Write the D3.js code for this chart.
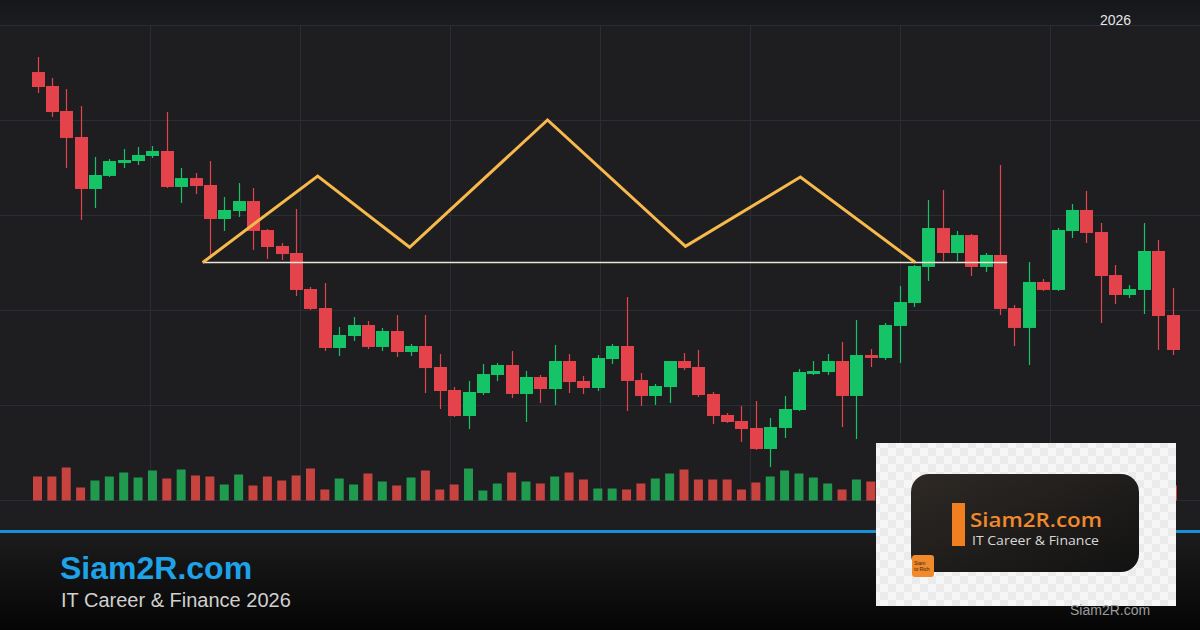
<!DOCTYPE html>
<html><head><meta charset="utf-8">
<script src="https://cdn.jsdelivr.net/npm/d3@7"></script>
<style>html,body{margin:0;padding:0;background:#1e1e20;}svg{display:block;}</style>
</head><body>
<svg id="c" width="1200" height="630"></svg>
<script>
// ---------- DATA ----------
const open  = [145.05,143.58,140.95,138.21,132.74,134.11,135.47,135.68,136.21,136.74,132.95,133.89,133.16,129.58,130.42,131.47,128.42,126.74,126.0,122.21,
               120.21,116.0,117.26,118.42,116.11,117.79,115.58,116.21,114.0,111.58,108.84,111.26,113.16,114.21,111.16,112.95,111.68,114.63,112.53,111.79,
               114.84,116.21,112.63,110.95,111.89,114.63,114.0,111.16,108.95,108.32,107.58,105.37,107.58,109.47,113.26,113.47,114.63,110.95,115.26,114.95,
               118.32,120.74,124.53,128.63,126.0,127.89,124.53,125.79,120.21,118.11,122.95,122.11,128.32,130.53,128.21,123.68,121.58,122.11,126.21,119.47];
const high  = [146.63,144.42,143.26,141.47,136.11,135.89,136.95,137.16,137.26,140.84,134.95,134.42,135.68,131.89,133.37,132.84,128.53,127.05,130.63,122.42,
               122.84,118.21,119.26,118.84,118.11,119.47,116.42,119.47,115.37,111.89,112.53,114.32,114.42,115.68,113.58,113.16,116.32,115.37,113.05,115.26,
               116.42,121.37,113.37,112.21,114.63,115.47,115.79,111.37,109.16,109.89,110.42,108.63,110.95,113.79,114.63,115.37,116.63,118.95,115.89,118.63,
               122.53,124.74,131.58,132.63,128.32,128.0,126.0,135.26,120.53,125.05,123.26,128.63,131.16,132.53,129.16,124.74,122.63,129.16,127.37,122.32];
const low   = [142.84,140.32,134.95,129.47,130.74,134.0,134.95,135.26,136.0,132.84,131.26,132.21,125.79,128.32,129.79,126.32,125.37,125.26,121.47,120.0,
               115.68,115.16,116.74,115.89,115.68,115.05,115.16,111.26,109.58,108.74,107.47,111.05,112.53,110.74,108.21,110.21,110.0,111.26,111.16,111.47,
               114.32,109.37,109.89,110.0,110.21,113.68,110.84,108.0,108.11,106.11,105.26,103.47,106.53,109.37,113.16,113.16,107.68,106.42,114.0,114.74,
               114.42,120.32,123.05,125.16,125.16,123.58,124.0,119.47,116.21,114.21,122.0,122.0,127.58,127.05,118.63,120.63,121.26,119.58,115.79,115.26];
const close = [143.47,140.84,138.11,132.74,134.21,135.68,135.79,136.32,136.74,132.95,133.89,133.05,129.58,130.53,131.47,128.32,126.63,125.89,122.11,120.11,
               116.0,117.37,118.42,116.11,117.79,115.58,116.21,113.89,111.47,108.84,111.37,113.26,114.21,111.16,112.95,111.68,114.63,112.42,111.79,114.95,
               116.21,112.53,110.95,112.0,114.63,113.89,111.05,108.84,108.21,107.47,105.37,107.68,109.58,113.47,113.58,114.63,110.95,115.26,114.95,118.42,
               120.84,124.63,128.63,126.0,127.89,124.53,125.79,120.11,118.11,122.95,122.11,128.42,130.53,128.11,123.58,121.58,122.21,126.21,119.37,115.79];
const volume = [24,24,33,13,20,24,28,23,30,22,31,25,24,16,26,15,24,20,25,32,
                11,22,16,27,19,15,23,30,11,16,32,10,17,28,19,17,24,28,21,12,
                12,11,17,22,27,31,21,21,21,11,18,24,30,27,23,17,11,21,19,22,
                26,28,30,24,18,20,16,34,22,26,12,28,24,20,26,18,12,22,25,15];
const priceTicks = [100,110,120,130,140,150];
const timeTicks = [1,2,3,4,5,6,7];
// Pattern overlay (candle index, price)
const patternIdx   = [11.5,19.5,25.9,35.5,45.1,53.1,61.1];
const patternPrice = [125.0,134.1,126.6,140.0,126.7,134.0,125.0];
const necklineIdx  = [11.5,67.5];
const necklinePrice = 125.0;
const yearLabel = "2026";
const brand = "Siam2R.com";
const subtitle = "IT Career & Finance 2026";
const logoSub = "IT Career & Finance";

// ---------- SCALES ----------
const svg = d3.select("#c");
const W = 1200, H = 630;
const x = d3.scaleLinear().domain([0, open.length - 1]).range([37.5, 1172.5]);
const y = d3.scaleLinear().domain([100, 150]).range([500, 25]);
const vy = d3.scaleLinear().domain([0, 100]).range([500.5, 400.5]);
const gx = d3.scaleLinear().domain([0, 8]).range([0, 1200]);
const bodyW = 13, volW = 9;
const UP = "#14c466", DOWN = "#e4434b", VUP = "#1f9a4f", VDOWN = "#c6433f";

const defs = svg.append("defs");
const fg = defs.append("linearGradient").attr("id","foot").attr("x1",0).attr("y1",0).attr("x2",0).attr("y2",1);
fg.append("stop").attr("offset","0%").attr("stop-color","#1c1c1c");
fg.append("stop").attr("offset","100%").attr("stop-color","#050505");
const tg = defs.append("linearGradient").attr("id","top").attr("x1",0).attr("y1",0).attr("x2",0).attr("y2",1);
tg.append("stop").attr("offset","0%").attr("stop-color","#16171a");
tg.append("stop").attr("offset","100%").attr("stop-color","#1b1c1f");
const lg = defs.append("linearGradient").attr("id","logo").attr("x1",0).attr("y1",0).attr("x2",1).attr("y2",1);
lg.append("stop").attr("offset","0%").attr("stop-color","#2e2925");
lg.append("stop").attr("offset","100%").attr("stop-color","#121212");
const pat = defs.append("pattern").attr("id","chk").attr("width",16).attr("height",16).attr("patternUnits","userSpaceOnUse");
pat.append("rect").attr("width",16).attr("height",16).attr("fill","#f6f6f6");
pat.append("rect").attr("width",8).attr("height",8).attr("fill","#ebebeb");
pat.append("rect").attr("x",8).attr("y",8).attr("width",8).attr("height",8).attr("fill","#ebebeb");

// backgrounds
svg.append("rect").attr("width",W).attr("height",H).attr("fill","#1e1e20");
svg.append("rect").attr("width",W).attr("height",25).attr("fill","url(#top)");
svg.append("rect").attr("y",533).attr("width",W).attr("height",H-533).attr("fill","url(#foot)");
svg.append("rect").attr("y",530).attr("width",W).attr("height",3).attr("fill","#1a90d6");

// grid
const grid = svg.append("g").attr("stroke","#2a2d38").attr("stroke-width",1);
grid.selectAll("line.h").data(priceTicks).join("line").attr("class","h")
  .attr("x1",0).attr("x2",W).attr("y1",d=>Math.round(y(d))+0.5).attr("y2",d=>Math.round(y(d))+0.5);
grid.selectAll("line.v").data(timeTicks).join("line").attr("class","v")
  .attr("x1",d=>Math.round(gx(d))+0.5).attr("x2",d=>Math.round(gx(d))+0.5).attr("y1",y(150)).attr("y2",y(100));

svg.append("text").attr("x",1100).attr("y",25).attr("fill","#e6e6e6")
  .attr("font-family","Liberation Sans, Arial, sans-serif").attr("font-size",14).text(yearLabel);

// volume
const idx = d3.range(open.length);
svg.append("g").selectAll("rect").data(idx).join("rect")
  .attr("x",i=>x(i)-volW/2).attr("width",volW)
  .attr("y",i=>vy(volume[i])).attr("height",i=>vy(0)-vy(volume[i]))
  .attr("fill",i=>close[i]>=open[i]?VUP:VDOWN);

// candles
const cg = svg.append("g");
cg.selectAll("line").data(idx).join("line")
  .attr("x1",i=>Math.round(x(i))+0.5).attr("x2",i=>Math.round(x(i))+0.5)
  .attr("y1",i=>y(high[i])).attr("y2",i=>y(low[i]))
  .attr("stroke",i=>close[i]>=open[i]?UP:DOWN).attr("stroke-width",1.2);
cg.selectAll("rect").data(idx).join("rect")
  .attr("x",i=>Math.round(x(i))+0.5-bodyW/2).attr("width",bodyW)
  .attr("y",i=>y(Math.max(open[i],close[i])))
  .attr("height",i=>Math.max(1.5,Math.abs(y(open[i])-y(close[i]))))
  .attr("fill",i=>close[i]>=open[i]?UP:DOWN);

// neckline & pattern
svg.append("line").attr("x1",x(necklineIdx[0])).attr("x2",x(necklineIdx[1]))
  .attr("y1",y(necklinePrice)).attr("y2",y(necklinePrice))
  .attr("stroke","#ebe5d6").attr("stroke-width",1.5);
const line = d3.line().x(d=>x(d[0])).y(d=>y(d[1]));
svg.append("path").datum(patternIdx.map((v,i)=>[v,patternPrice[i]]))
  .attr("d",line).attr("fill","none").attr("stroke","#f7b94c").attr("stroke-width",3)
  .attr("stroke-linejoin","miter");

// footer text
svg.append("text").attr("x",60).attr("y",579).attr("fill","#1ea2e8")
  .attr("font-family","Liberation Sans, Arial, sans-serif").attr("font-weight","bold").attr("font-size",32).text(brand);
svg.append("text").attr("x",61).attr("y",607).attr("fill","#d0d0d0")
  .attr("font-family","Liberation Sans, Arial, sans-serif").attr("font-size",20).text(subtitle);

// logo box
const lgG = svg.append("g");
lgG.append("rect").attr("x",876).attr("y",443).attr("width",300).attr("height",163).attr("fill","url(#chk)");
lgG.append("rect").attr("x",911).attr("y",474).attr("width",228).attr("height",98).attr("rx",18).attr("fill","url(#logo)");
lgG.append("rect").attr("x",952).attr("y",503).attr("width",13).attr("height",43).attr("fill","#f07f1f");
lgG.append("text").attr("x",970).attr("y",527).attr("fill","#f08a2c")
  .attr("font-family","Open Sans, Lato, sans-serif").attr("font-weight",600).attr("font-size",20)
  .attr("textLength",132).attr("lengthAdjust","spacingAndGlyphs").text(brand);
lgG.append("text").attr("x",972).attr("y",545).attr("fill","#d8d8d8")
  .attr("font-family","Open Sans, Lato, sans-serif").attr("font-size",13)
  .attr("textLength",127).attr("lengthAdjust","spacingAndGlyphs").text(logoSub);
lgG.append("rect").attr("x",912).attr("y",555).attr("width",22).attr("height",22).attr("rx",3).attr("fill","#f08a2c");
lgG.append("text").attr("x",914).attr("y",565).attr("fill","#3a2414").attr("font-family","Liberation Sans, Arial").attr("font-size",5).text("Siam");
lgG.append("text").attr("x",914).attr("y",571).attr("fill","#3a2414").attr("font-family","Liberation Sans, Arial").attr("font-size",5).text("to Rich");
svg.append("text").attr("x",1070).attr("y",615).attr("fill","#9c9c9c")
  .attr("font-family","Liberation Sans, Arial, sans-serif").attr("font-size",14).text(brand);
</script>
</body></html>
